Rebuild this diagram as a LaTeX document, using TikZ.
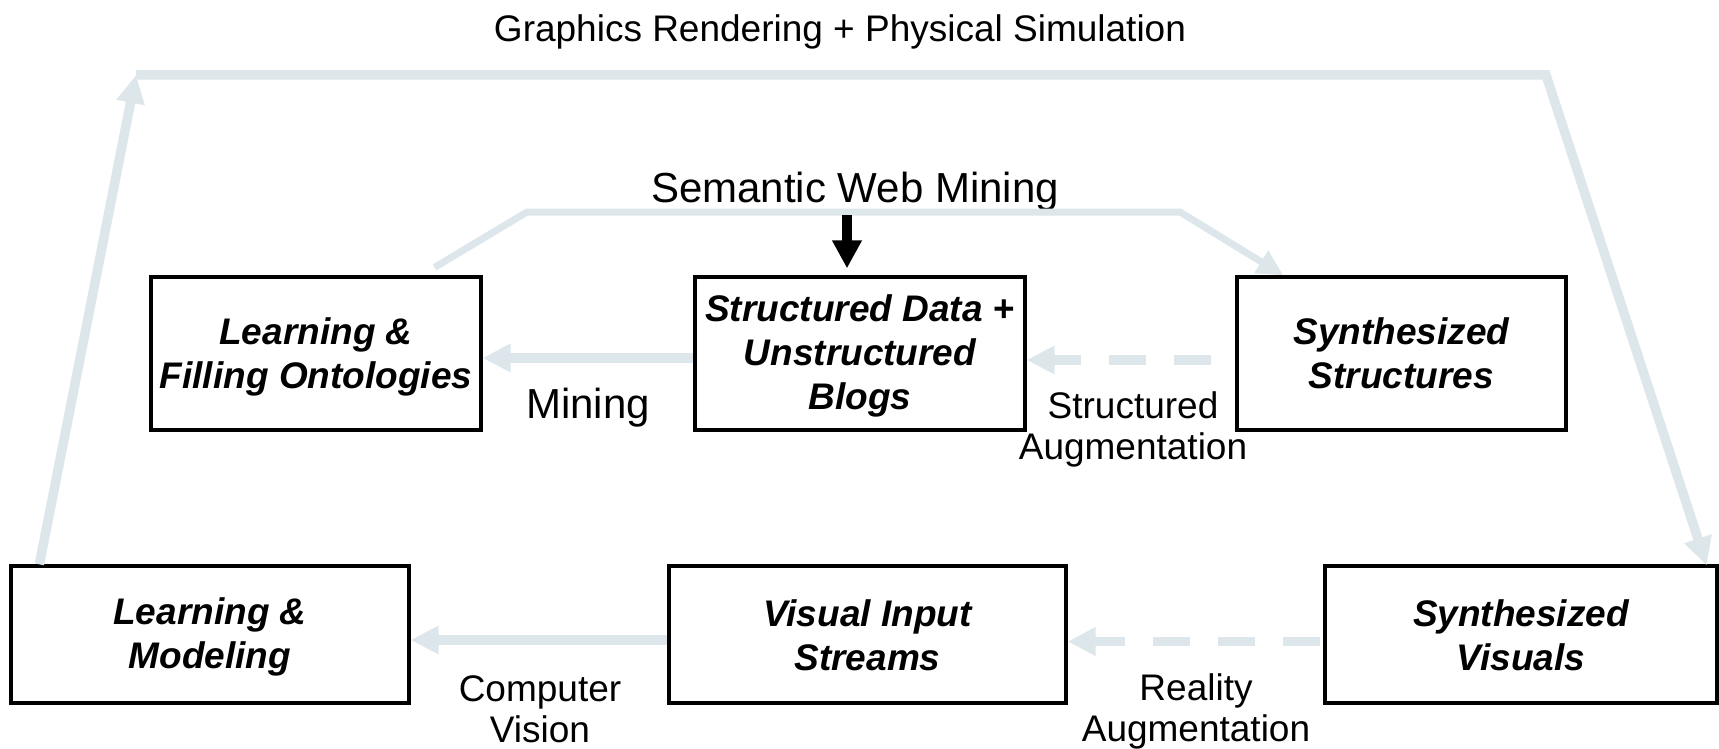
\documentclass[tikz,border=0pt]{standalone}
\usepackage{fontspec}
\setmainfont{Liberation Sans}
\usetikzlibrary{arrows.meta}
\definecolor{lb}{RGB}{220,230,235}
\newcommand{\lift}[1]{\rule{0pt}{#1}}
\begin{document}
\begin{tikzpicture}[x=1pt,y=-1pt,
  box/.style={draw=black, line width=3.3pt, rectangle, inner sep=0pt, align=center,
    font=\fontsize{37}{44}\selectfont\bfseries\itshape},
  topbox/.style={box, minimum width=330pt, minimum height=153pt},
  botbox/.style={box, minimum width=397pt, minimum height=137pt},
  lab/.style={inner sep=0pt, align=center, font=\fontsize{37}{41}\selectfont},
  biglab/.style={inner sep=0pt, align=center, font=\fontsize{42}{46}\selectfont},
  larrow/.style={draw=lb, line width=9.5pt, line join=miter, -{Triangle[length=28pt,width=27pt]}},
  sarrow/.style={draw=lb, line width=7pt, line join=miter, -{Triangle[length=26pt,width=25pt]}},
  barrow/.style={draw=black, line width=10pt, -{Triangle[length=28pt,width=28pt]}},
  dashedarrow/.style={larrow, dash pattern=on 37pt off 28pt}
]
\useasboundingbox (0,0) rectangle (1719,749);

% boxes
\node[topbox] (lf) at (316,353.5) {\lift{34pt}Learning \&\\Filling Ontologies};
\node[topbox] (sd) at (860,353.5) {\lift{32pt}Structured Data \textup{+}\\Unstructured\\Blogs};
\node[topbox, minimum width=329pt] (ss) at (1401.5,353.5) {Synthesized\\Structures};
\node[botbox, minimum width=398pt] (lm) at (210,634.5) {\lift{31pt}Learning \&\\Modeling};
\node[botbox] (vi) at (867.5,634.5) {\lift{29pt}Visual Input\\Streams};
\node[botbox, minimum width=392pt] (sv) at (1521,634.5) {\lift{29pt}Synthesized\\Visuals};

% labels
\node[lab, anchor=base] (title) at (840,42) {Graphics Rendering + Physical Simulation};
\node[biglab, anchor=base] (swm) at (855,202) {Semantic Web Mining};
\node[biglab, anchor=base] (mining) at (588,418) {Mining};
\node[lab, anchor=base] (salab) at (1133,459) {Structured\\Augmentation};
\node[lab, anchor=base] (cvlab) at (540,742) {Computer\\Vision};
\node[lab, anchor=base] (ralab) at (1196,741) {Reality\\Augmentation};

% coordinates
\coordinate (tl) at (136,75);
\coordinate (tr) at (1546,75);
\coordinate (sw1) at (527,212);
\coordinate (sw2) at (1180,212);
\coordinate (bt) at (847,215);

% outer loop
\draw[larrow] ([xshift=30pt]lm.north west) -- (tl);
\draw[larrow] (tl) -- (tr) -- ([xshift=-12pt,yshift=-1pt]sv.north east);

% semantic web mining
\draw[sarrow] ([xshift=-48pt,yshift=8pt]lf.north east) -- (sw1) -- (sw2) -- ([xshift=48pt]ss.north west);
\draw[barrow] (bt) -- ([xshift=-13pt,yshift=7pt]sd.north);

% horizontal arrows
\draw[larrow] (sd.west |- 0,358) -- (lf.east |- 0,358);
\draw[dashedarrow, dash phase=41pt] (ss.west |- 0,360) -- (sd.east |- 0,360);
\draw[larrow] (vi.west |- 0,640) -- (lm.east |- 0,640);
\draw[dashedarrow] ([xshift=-3pt]sv.west |- 0,641.5) -- (vi.east |- 0,641.5);
\end{tikzpicture}
\end{document}
